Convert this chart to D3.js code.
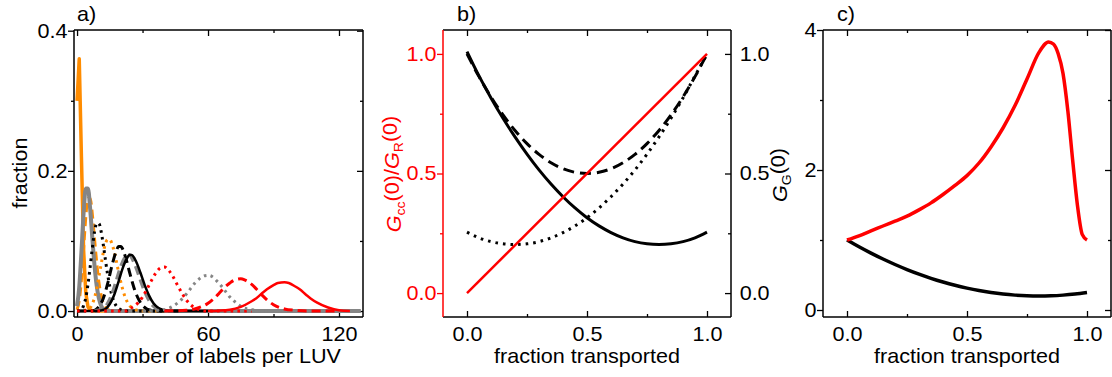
<!DOCTYPE html>
<html>
<head>
<meta charset="utf-8">
<script src="https://cdn.jsdelivr.net/npm/d3@7"></script>
<style>
  body { margin: 0; background: #fff; }
  svg { display: block; font-family: Arial, "Liberation Sans", sans-serif; }
</style>
</head>
<body>
<svg width="1112" height="377"></svg>
<script>
// ---- panel a: label distributions, [labels per LUV, fraction]
var orangeSolid = [[0,0.30],[1,0.36],[2,0.22],[3,0.087],[4,0.026],[5,0.006],[6,0.001],[8,0],[40,0]];
var orangeDashed = [[0,0.002],[1,0.015],[2,0.045],[3,0.089],[4,0.134],[5,0.161],[6,0.161],[7,0.138],[8,0.103],[9,0.069],[10,0.041],[11,0.023],[12,0.011],[13,0.005],[15,0.001],[18,0],[40,0]];
var graySolid = [[0,0.007],[1,0.034],[2,0.084],[3,0.140],[4,0.175],[5,0.175],[6,0.146],[7,0.104],[8,0.065],[9,0.036],[10,0.018],[11,0.008],[12,0.003],[14,0],[130,0]];
var blackDotted = [[0,0],[2,0.002],[3,0.008],[4,0.019],[5,0.038],[6,0.063],[7,0.090],[8,0.113],[9,0.125],[10,0.125],[11,0.114],[12,0.095],[13,0.073],[14,0.052],[15,0.035],[16,0.022],[17,0.013],[18,0.007],[20,0.002],[23,0],[40,0]];
var orangeDotted = [[0,0],[5,0.002],[7,0.010],[8,0.019],[9,0.032],[10,0.049],[11,0.066],[12,0.083],[13,0.096],[14,0.102],[15,0.102],[16,0.096],[17,0.085],[18,0.071],[19,0.056],[20,0.042],[21,0.030],[22,0.020],[23,0.013],[24,0.008],[26,0.003],[28,0.001],[31,0],[45,0]];
var blackDashed = [[0,0],[6,0],[8,0.001],[10,0.006],[12,0.018],[14,0.039],[16,0.065],[18,0.086],[19,0.092],[20,0.092],[22,0.079],[24,0.056],[26,0.034],[28,0.018],[30,0.008],[32,0.003],[34,0.001],[37,0],[50,0]];
var grayDashed = [[8,0],[10,0.001],[12,0.003],[14,0.010],[16,0.023],[18,0.042],[20,0.062],[22,0.076],[23,0.080],[24,0.080],[26,0.071],[28,0.055],[30,0.037],[32,0.022],[34,0.011],[36,0.005],[38,0.002],[41,0],[60,0]];
var blackSolid = [[0,0],[9,0],[11,0.001],[13,0.003],[15,0.010],[17,0.023],[19,0.042],[21,0.062],[23,0.076],[24,0.080],[25,0.080],[27,0.071],[29,0.055],[31,0.037],[33,0.022],[35,0.011],[37,0.005],[39,0.002],[42,0],[60,0]];
var redDotted = [[0,0],[22,0],[24,0.003],[28,0.012],[30,0.020],[32,0.031],[34,0.043],[36,0.054],[38,0.061],[40,0.063],[42,0.058],[44,0.049],[46,0.037],[48,0.026],[50,0.016],[52,0.009],[56,0.002],[60,0],[80,0]];
var grayDotted = [[30,0],[40,0.002],[44,0.007],[48,0.017],[50,0.024],[52,0.032],[54,0.040],[56,0.046],[58,0.050],[60,0.051],[62,0.049],[64,0.043],[66,0.036],[68,0.028],[70,0.020],[72,0.014],[76,0.005],[80,0.002],[85,0],[100,0]];
var redDashed = [[40,0],[50,0.001],[55,0.004],[60,0.011],[62,0.016],[65,0.025],[67,0.032],[70,0.040],[72,0.044],[75,0.046],[77,0.044],[80,0.038],[82,0.032],[85,0.022],[87,0.016],[90,0.009],[95,0.003],[100,0.001],[105,0],[120,0]];
var redSolid = [[60,0],[70,0.002],[75,0.006],[80,0.014],[82,0.018],[85,0.026],[87,0.031],[90,0.037],[92,0.040],[95,0.041],[97,0.040],[100,0.035],[102,0.031],[105,0.023],[107,0.018],[110,0.012],[115,0.005],[120,0.001],[125,0]];

// ---- panel b: vs fraction transported
var fracB = [0,0.05,0.1,0.15,0.2,0.25,0.3,0.35,0.4,0.45,0.5,0.55,0.6,0.65,0.7,0.75,0.8,0.85,0.9,0.95,1];
var gccRatio = [[0,0],[1,1]];
var bSolid = [1.01,0.908,0.816,0.731,0.653,0.581,0.515,0.456,0.403,0.356,0.315,0.281,0.253,0.231,0.215,0.206,0.203,0.206,0.215,0.231,0.255];
var bDashed = [1.0,0.905,0.82,0.745,0.68,0.625,0.58,0.545,0.52,0.505,0.5,0.505,0.52,0.545,0.58,0.625,0.68,0.745,0.82,0.905,1.0];
var bDotted = [0.255,0.231,0.215,0.206,0.203,0.206,0.215,0.231,0.253,0.281,0.315,0.356,0.403,0.456,0.515,0.581,0.653,0.731,0.816,0.908,1.0];

// ---- panel c: G_G(0)
var fracCRed = [0,0.05,0.1,0.15,0.2,0.25,0.3,0.35,0.4,0.45,0.5,0.55,0.6,0.65,0.7,0.75,0.8,0.84,0.86,0.88,0.9,0.92,0.94,0.96,0.98,1];
var cRed = [1.00,1.06,1.13,1.20,1.27,1.34,1.43,1.53,1.65,1.78,1.92,2.10,2.33,2.60,2.92,3.30,3.68,3.83,3.80,3.66,3.38,2.85,2.15,1.50,1.08,1.00];
var cBlack = [1.0,0.903,0.8125,0.728,0.65,0.578,0.5125,0.453,0.40,0.353,0.3125,0.278,0.25,0.228,0.2125,0.203,0.20,0.203,0.2125,0.228,0.25];

var svg = d3.select("svg");
var fontSize = 20;
var stretch = "scale(1.08,1)";
var orange = "#ff8c00", gray = "#858585", red = "#ff0000";

function label(g, str, x, y, rot) {
  return g.append("text")
    .text(str)
    .attr("transform", "translate(" + x + "," + y + ")" + (rot ? " rotate(" + rot + ")" : "") + " " + stretch)
    .style("font-size", fontSize + "px");
}

function panel(o) {
  var x = d3.scaleLinear().domain(o.xDomain).range([o.left, o.right]);
  var y = d3.scaleLinear().domain(o.yDomain).range([o.bottom, o.top]);
  var g = svg.append("g");

  function ax(axis, tx, ty, color) {
    var a = g.append("g")
      .attr("transform", "translate(" + tx + "," + ty + ")")
      .attr("color", color || "black")
      .call(axis);
    a.select(".domain").remove();
    a.selectAll("line").attr("stroke-width", 1.3);
    a.selectAll("text")
      .attr("transform", stretch)
      .style("font-size", fontSize + "px")
      .style("font-family", "Arial, 'Liberation Sans', sans-serif");
    return a;
  }

  // bottom
  ax(d3.axisBottom(x).tickValues(o.xMajor).tickSize(-6).tickPadding(10).tickFormat(o.xFormat), 0, o.bottom);
  ax(d3.axisBottom(x).tickValues(o.xMinor).tickSize(-3).tickFormat(""), 0, o.bottom);
  // top
  ax(d3.axisTop(x).tickValues(o.xMajor).tickSize(-6).tickFormat(""), 0, o.top);
  ax(d3.axisTop(x).tickValues(o.xMinor).tickSize(-3).tickFormat(""), 0, o.top);
  // left, outward
  ax(d3.axisLeft(y).tickValues(o.yMajor).tickSize(6).tickPadding(0).tickFormat(o.yFormat), o.left, 0, o.leftColor);
  ax(d3.axisLeft(y).tickValues(o.yMinor).tickSize(3).tickFormat(""), o.left, 0, o.leftColor);
  // right, inward
  ax(d3.axisRight(y).tickValues(o.yMajor).tickSize(-6).tickPadding(8)
       .tickFormat(o.rightLabels ? o.yFormat : ""), o.right, 0);
  ax(d3.axisRight(y).tickValues(o.yMinor).tickSize(-3).tickFormat(""), o.right, 0);

  // frame
  var fr = [
    [o.left, o.top, o.right, o.top, "black"],
    [o.right, o.top, o.right, o.bottom, "black"],
    [o.left, o.bottom, o.right, o.bottom, "black"],
    [o.left, o.top, o.left, o.bottom, o.leftColor || "black"]
  ];
  g.selectAll(".frame").data(fr).enter().append("line")
    .attr("x1", d => d[0]).attr("y1", d => d[1])
    .attr("x2", d => d[2]).attr("y2", d => d[3])
    .attr("stroke", d => d[4])
    .attr("stroke-width", 1.5);

  // panel letter and x title
  label(g, o.letter, o.left + o.letterDx, 21);
  label(g, o.xTitle, (o.left + o.right) / 2, 363)
    .style("text-anchor", "middle");

  var clipId = "clip-" + o.letter.charAt(0);
  g.append("clipPath").attr("id", clipId)
    .append("rect")
      .attr("x", o.left).attr("y", o.top)
      .attr("width", o.right - o.left).attr("height", o.bottom - o.top);
  var plot = g.append("g").attr("clip-path", "url(#" + clipId + ")");

  return { x: x, y: y, g: g, plot: plot };
}

function drawLine(p, data, st) {
  var line = d3.line()
    .x(d => p.x(d[0]))
    .y(d => p.y(d[1]))
    .curve(st.curve || d3.curveMonotoneX);
  p.plot.append("path")
    .datum(data)
    .attr("d", line)
    .attr("fill", "none")
    .attr("stroke", st.color)
    .attr("stroke-width", st.width)
    .attr("stroke-dasharray", st.dash || null)
    .attr("stroke-linejoin", "round");
}

function pairs(xs, ys) {
  return xs.map((v, i) => [v, ys[i]]);
}

// ---------------- panel a
var pa = panel({
  left: 74, right: 363, top: 30, bottom: 317,
  xDomain: [-1.4, 131], yDomain: [-0.0085, 0.401],
  xMajor: [0, 60, 120], xMinor: [30, 90],
  yMajor: [0, 0.2, 0.4], yMinor: [0.1, 0.3],
  xFormat: d3.format("d"), yFormat: d3.format(".1f"),
  letter: "a)", letterDx: 3, xTitle: "number of labels per LUV"
});

var dotted = "2.6,4.2", dashed = "9,5";
drawLine(pa, orangeSolid, { color: orange, width: 3.5, curve: d3.curveLinear });
drawLine(pa, orangeDashed, { color: orange, width: 3, dash: dashed });
drawLine(pa, graySolid, { color: gray, width: 4 });
drawLine(pa, blackDotted, { color: "black", width: 3, dash: dotted });
drawLine(pa, orangeDotted, { color: orange, width: 3, dash: dotted });
drawLine(pa, blackDashed, { color: "black", width: 3, dash: dashed });
drawLine(pa, grayDashed, { color: gray, width: 4, dash: dashed });
drawLine(pa, blackSolid, { color: "black", width: 2.5 });
drawLine(pa, redDotted, { color: red, width: 3, dash: dotted });
drawLine(pa, grayDotted, { color: gray, width: 3, dash: dotted });
drawLine(pa, redDashed, { color: red, width: 3, dash: dashed });
drawLine(pa, redSolid, { color: red, width: 2.5 });

label(pa.g, "fraction", 27, 173, -90)
  .style("text-anchor", "middle");

// ---------------- panel b
var pb = panel({
  left: 443, right: 731, top: 30, bottom: 317,
  xDomain: [-0.1, 1.1], yDomain: [-0.1, 1.1],
  xMajor: [0, 0.5, 1], xMinor: [0.25, 0.75],
  yMajor: [0, 0.5, 1], yMinor: [0.25, 0.75],
  xFormat: d3.format(".1f"), yFormat: d3.format(".1f"),
  leftColor: red, rightLabels: true,
  letter: "b)", letterDx: 14, xTitle: "fraction transported"
});

drawLine(pb, pairs(fracB, bSolid), { color: "black", width: 3 });
drawLine(pb, pairs(fracB, bDashed), { color: "black", width: 3, dash: "11,6" });
drawLine(pb, pairs(fracB, bDotted), { color: "black", width: 3, dash: "2.6,5" });
drawLine(pb, gccRatio, { color: red, width: 2.5, curve: d3.curveLinear });

var lb = label(pb.g, "", 401, 174, -90)
  .style("text-anchor", "middle")
  .attr("fill", red);
lb.append("tspan").text("G").style("font-style", "italic");
lb.append("tspan").text("cc").attr("dy", "0.3em").style("font-size", "13px");
lb.append("tspan").text("(0)/").attr("dy", "-0.3em");
lb.append("tspan").text("G").style("font-style", "italic");
lb.append("tspan").text("R").attr("dy", "0.3em").style("font-size", "13px");
lb.append("tspan").text("(0)").attr("dy", "-0.3em");

// ---------------- panel c
var pc = panel({
  left: 823, right: 1111, top: 30, bottom: 317,
  xDomain: [-0.1, 1.1], yDomain: [-0.1, 4.0],
  xMajor: [0, 0.5, 1], xMinor: [0.25, 0.75],
  yMajor: [0, 2, 4], yMinor: [1, 3],
  xFormat: d3.format(".1f"), yFormat: d3.format("d"),
  letter: "c)", letterDx: 14, xTitle: "fraction transported"
});

drawLine(pc, pairs(fracB, cBlack), { color: "black", width: 3.5 });
drawLine(pc, pairs(fracCRed, cRed), { color: red, width: 3.5 });

var lc = label(pc.g, "", 787, 175, -90)
  .style("text-anchor", "middle");
lc.append("tspan").text("G").style("font-style", "italic");
lc.append("tspan").text("G").attr("dy", "0.3em").style("font-size", "13px");
lc.append("tspan").text("(0)").attr("dy", "-0.3em");
</script>
</body>
</html>
